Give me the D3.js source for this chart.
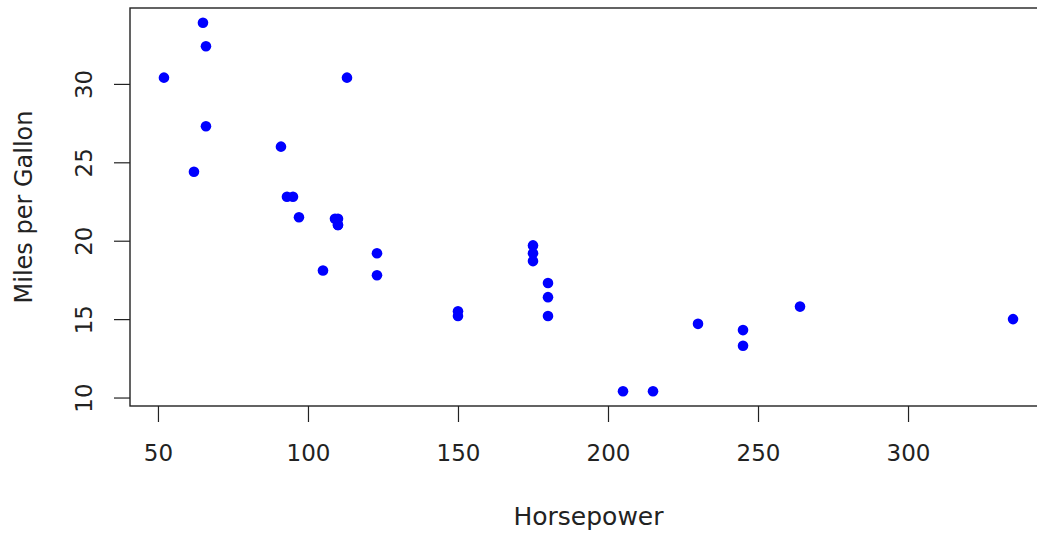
<!DOCTYPE html>
<html>
<head>
<meta charset="utf-8">
<script src="https://cdn.jsdelivr.net/npm/d3@7"></script>
<style>
  body { margin: 0; background: #fff; }
  svg { display: block; }
  text { font-family: "DejaVu Sans", sans-serif; fill: #222; }
</style>
</head>
<body>
<div id="chart"></div>
<script>
// mtcars: horsepower vs miles per gallon
const hp  = [110, 110, 93, 110, 175, 105, 245, 62, 95, 123, 123, 180, 180, 180, 205, 215,
             230, 66, 52, 65, 97, 150, 150, 245, 175, 66, 91, 113, 264, 175, 335, 109]
const mpg = [21.0, 21.0, 22.8, 21.4, 18.7, 18.1, 14.3, 24.4, 22.8, 19.2, 17.8, 16.4, 17.3, 15.2, 10.4, 10.4,
             14.7, 32.4, 30.4, 33.9, 21.5, 15.5, 15.2, 13.3, 19.2, 27.3, 26.0, 30.4, 15.8, 19.7, 15.0, 21.4]
const xTicks = [50, 100, 150, 200, 250, 300]
const yTicks = [10, 15, 20, 25, 30]

const width = 1037, height = 534
const pLeft = 130, pRight = 1047, pTop = 8, pBottom = 406

const svg = d3.select('#chart')
  .append('svg')
  .attr('width', width)
  .attr('height', height)

// R style 4% padding around data range
const xr = d3.extent(hp), yr = d3.extent(mpg)
const xpad = (xr[1] - xr[0]) * 0.04, ypad = (yr[1] - yr[0]) * 0.04

const xScale = d3.scaleLinear()
  .domain([xr[0] - xpad, xr[1] + xpad])
  .range([pLeft, pRight])
const yScale = d3.scaleLinear()
  .domain([yr[0] - ypad, yr[1] + ypad])
  .range([pBottom, pTop])

const xAxis = d3.axisBottom(xScale).tickValues(xTicks).tickSize(16).tickSizeOuter(0)
const yAxis = d3.axisLeft(yScale).tickValues(yTicks).tickSize(16).tickSizeOuter(0)

const gx = svg.append('g')
  .attr('transform', `translate(0,${pBottom})`)
  .call(xAxis)
gx.select('.domain').remove()
gx.selectAll('line').attr('stroke', '#222').attr('stroke-width', 1.2)
gx.selectAll('text')
  .attr('y', 55).attr('dy', null)
  .attr('fill', '#222')
  .style('font-size', '23px')

const gy = svg.append('g')
  .attr('transform', `translate(${pLeft},0)`)
  .call(yAxis)
gy.select('.domain').remove()
gy.selectAll('line').attr('stroke', '#222').attr('stroke-width', 1.2)
gy.selectAll('text')
  .attr('x', null).attr('dy', null)
  .attr('fill', '#222')
  .attr('text-anchor', 'middle')
  .attr('transform', 'translate(-38,0) rotate(-90)')
  .style('font-size', '23px')

// plot box
svg.append('rect')
  .attr('x', pLeft)
  .attr('y', pTop)
  .attr('width', pRight - pLeft)
  .attr('height', pBottom - pTop)
  .attr('fill', 'none')
  .attr('stroke', '#222')
  .attr('stroke-width', 1.4)

svg.selectAll('circle')
  .data(hp.map((h, i) => [h, mpg[i]]))
  .enter()
  .append('circle')
  .attr('cx', d => xScale(d[0]))
  .attr('cy', d => yScale(d[1]))
  .attr('r', 5.3)
  .attr('fill', '#0000ff')

svg.append('text')
  .text('Horsepower')
  .attr('x', (pLeft + pRight) / 2)
  .attr('y', 525)
  .attr('text-anchor', 'middle')
  .style('font-size', '25px')

svg.append('text')
  .text('Miles per Gallon')
  .attr('transform', `translate(32,${(pTop + pBottom) / 2}) rotate(-90)`)
  .attr('text-anchor', 'middle')
  .style('font-size', '24px')
</script>
</body>
</html>
